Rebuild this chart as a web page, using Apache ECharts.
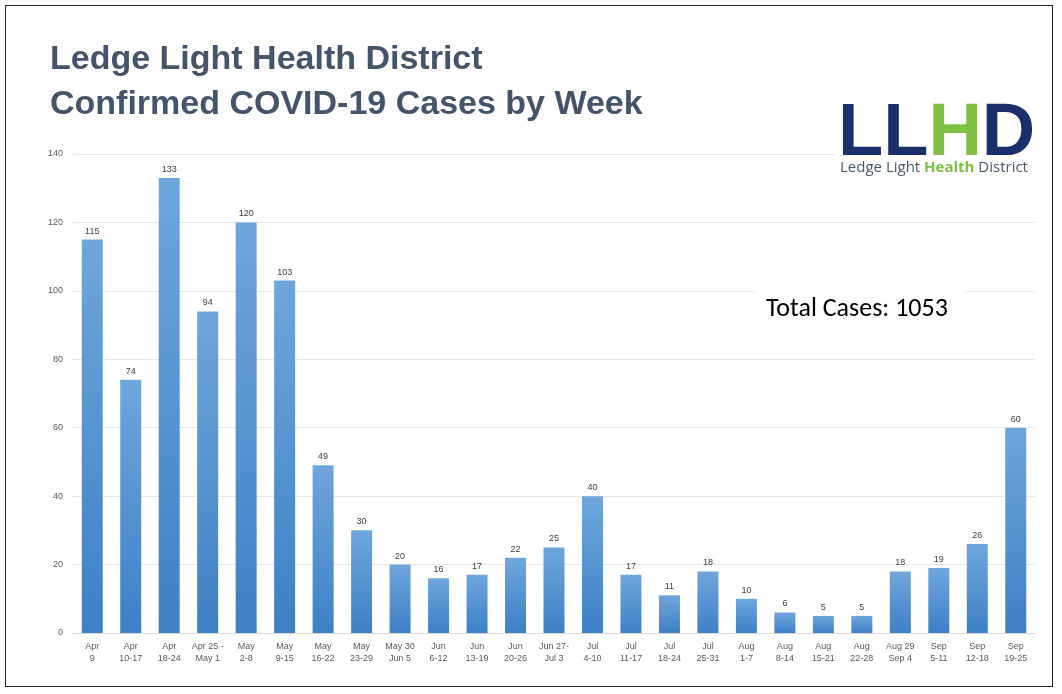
<!DOCTYPE html>
<html lang="en">
<head>
<meta charset="UTF-8">
<title>LLHD COVID-19 Cases by Week</title>
<script src="https://cdn.jsdelivr.net/npm/echarts@6/dist/echarts.min.js"></script>
<style>
    html, body { margin: 0; padding: 0; background: #fff; }
    #frame { position: absolute; left: 5px; top: 5px; width: 1046px; height: 680px; border: 1px solid #222; }
    #main { width: 1062px; height: 694px; }
</style>
</head>
<body>
<div id="frame"></div>
<div id="main"></div>
<script type="text/javascript">
    var weeks = ['Apr\n9', 'Apr\n10-17', 'Apr\n18-24', 'Apr 25 -\nMay 1', 'May\n2-8', 'May\n9-15',
        'May\n16-22', 'May\n23-29', 'May 30\nJun 5', 'Jun\n6-12', 'Jun\n13-19', 'Jun\n20-26',
        'Jun 27-\nJul 3', 'Jul\n4-10', 'Jul\n11-17', 'Jul\n18-24', 'Jul\n25-31', 'Aug\n1-7',
        'Aug\n8-14', 'Aug\n15-21', 'Aug\n22-28', 'Aug 29\nSep 4', 'Sep\n5-11', 'Sep\n12-18', 'Sep\n19-25'];
    var cases = [115, 74, 133, 94, 120, 103, 49, 30, 20, 16, 17, 22, 25, 40, 17, 11, 18, 10, 6, 5, 5, 18, 19, 26, 60];
    var total = 1053;

    var myChart = echarts.init(document.getElementById('main'));
    myChart.setOption({
        animation: false,
        grid: { left: 73, right: 27, top: 154, bottom: 61 },
        title: {
            text: 'Ledge Light Health District\nConfirmed COVID-19 Cases by Week',
            left: 45, top: 32,
            textStyle: { fontFamily: 'Arial, Liberation Sans', fontSize: 34, fontWeight: 'bold', color: '#44546a', lineHeight: 45 }
        },
        xAxis: {
            type: 'category',
            data: weeks,
            axisTick: { show: false },
            axisLine: { lineStyle: { color: '#d9d9d9' } },
            axisLabel: { interval: 0, fontSize: 9, color: '#595959', lineHeight: 12, margin: 8 }
        },
        yAxis: {
            type: 'value',
            min: 0, max: 140, interval: 20,
            axisLabel: { fontSize: 9, color: '#595959', margin: 10 },
            splitLine: { lineStyle: { color: '#e6e6e6' } }
        },
        series: [{
            type: 'bar',
            data: cases,
            barWidth: 21,
            label: { show: true, position: 'top', fontSize: 9, color: '#404040', distance: 4 },
            itemStyle: {
                color: new echarts.graphic.LinearGradient(0, 0, 0, 1, [
                    { offset: 0, color: '#6fa6dc' },
                    { offset: 1, color: '#3d80c6' }
                ])
            }
        }],
        graphic: [
            {
                type: 'rect', left: 755, top: 290, shape: { width: 210, height: 44 },
                style: { fill: '#fff' }, z: 10
            },
            {
                type: 'text', left: 766, top: 296, z: 11,
                style: { text: 'Total Cases: ' + total, font: '26px Calibri, Carlito, "Liberation Sans", sans-serif', fill: '#000' }
            },
            {
                type: 'rect', left: 835, top: 100, shape: { width: 205, height: 85 },
                style: { fill: '#fff' }, z: 10
            },
            {
                type: 'text', left: 838, top: 98, z: 11,
                style: {
                    text: '{d|LL}{g|H}{d|D}',
                    rich: {
                        d: { font: 'bold 74px "Liberation Sans", Arial', fill: '#1b2f6b' },
                        g: { font: 'bold 74px "Liberation Sans", Arial', fill: '#7cc143' }
                    }
                }
            },
            {
                type: 'text', left: 840, top: 160, z: 11,
                style: {
                    text: '{d|Ledge Light }{g|Health}{d| District}',
                    rich: {
                        d: { font: '15px "Open Sans", sans-serif', fill: '#4a5a6a' },
                        g: { font: 'bold 15px "Open Sans", sans-serif', fill: '#7cc143' }
                    }
                }
            }
        ]
    });
</script>
</body>
</html>
